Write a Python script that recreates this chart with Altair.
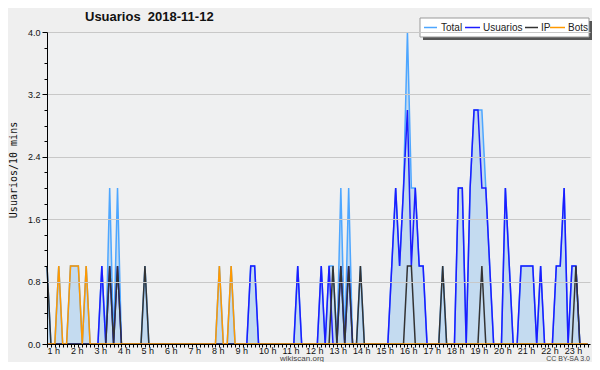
import altair as alt
import pandas as pd

# 10-minute slots, slot 0 = 1 h (local time)
total = [
    1, 0, 0, 1, 0, 0, 1, 1, 1, 0, 1, 0,
    0, 0, 1, 0, 2, 0, 2, 0, 0, 0, 0, 0,
    0, 1, 0, 0, 0, 0, 0, 0, 0, 0, 0, 0,
    0, 0, 0, 0, 0, 0, 0, 0, 1, 0, 0, 1,
    0, 0, 0, 0, 1, 1, 0, 0, 0, 0, 0, 0,
    0, 0, 0, 0, 1, 0, 0, 0, 0, 0, 1, 0,
    1, 1, 0, 2, 0, 2, 0, 0, 1, 0, 0, 0,
    0, 0, 0, 0, 1, 2, 1, 2, 4, 2, 2, 1,
    1, 0, 0, 0, 0, 1, 0, 0, 0, 2, 2, 0,
    2, 3, 3, 3, 2, 1, 0, 0, 0, 2, 1, 0,
    0, 1, 1, 1, 1, 0, 1, 0, 0, 0, 1, 1,
    2, 0, 1, 1, 0, 0, 0,
]
usuarios = [
    0, 0, 0, 0, 0, 0, 0, 0, 0, 0, 0, 0,
    0, 0, 1, 0, 1, 0, 1, 0, 0, 0, 0, 0,
    0, 0, 0, 0, 0, 0, 0, 0, 0, 0, 0, 0,
    0, 0, 0, 0, 0, 0, 0, 0, 0, 0, 0, 0,
    0, 0, 0, 0, 1, 1, 0, 0, 0, 0, 0, 0,
    0, 0, 0, 0, 1, 0, 0, 0, 0, 0, 1, 0,
    1, 0, 0, 1, 0, 1, 0, 0, 0, 0, 0, 0,
    0, 0, 0, 0, 1, 2, 1, 2, 3, 1, 2, 1,
    1, 0, 0, 0, 0, 0, 0, 0, 0, 2, 2, 0,
    2, 3, 3, 2, 2, 1, 0, 0, 0, 2, 1, 0,
    0, 1, 1, 1, 1, 0, 1, 0, 0, 0, 1, 1,
    2, 0, 1, 1, 0, 0, 0,
]
ip = [
    1, 0, 0, 0, 0, 0, 0, 0, 0, 0, 0, 0,
    0, 0, 0, 0, 1, 0, 1, 0, 0, 0, 0, 0,
    0, 1, 0, 0, 0, 0, 0, 0, 0, 0, 0, 0,
    0, 0, 0, 0, 0, 0, 0, 0, 0, 0, 0, 0,
    0, 0, 0, 0, 0, 0, 0, 0, 0, 0, 0, 0,
    0, 0, 0, 0, 0, 0, 0, 0, 0, 0, 0, 0,
    0, 1, 0, 1, 0, 1, 0, 0, 1, 0, 0, 0,
    0, 0, 0, 0, 0, 0, 0, 0, 1, 1, 0, 0,
    0, 0, 0, 0, 0, 1, 0, 0, 0, 0, 0, 0,
    0, 0, 0, 1, 0, 0, 0, 0, 0, 0, 0, 0,
    0, 0, 0, 0, 0, 0, 0, 0, 0, 0, 0, 0,
    0, 0, 0, 1, 0, 0, 0,
]
bots = [
    0, 0, 0, 1, 0, 0, 1, 1, 1, 0, 1, 0,
    0, 0, 0, 0, 0, 0, 0, 0, 0, 0, 0, 0,
    0, 0, 0, 0, 0, 0, 0, 0, 0, 0, 0, 0,
    0, 0, 0, 0, 0, 0, 0, 0, 1, 0, 0, 1,
    0, 0, 0, 0, 0, 0, 0, 0, 0, 0, 0, 0,
    0, 0, 0, 0, 0, 0, 0, 0, 0, 0, 0, 0,
    0, 0, 0, 0, 0, 0, 0, 0, 0, 0, 0, 0,
    0, 0, 0, 0, 0, 0, 0, 0, 0, 0, 0, 0,
    0, 0, 0, 0, 0, 0, 0, 0, 0, 0, 0, 0,
    0, 0, 0, 0, 0, 0, 0, 0, 0, 0, 0, 0,
    0, 0, 0, 0, 0, 0, 0, 0, 0, 0, 0, 0,
    0, 0, 0, 0, 0, 0, 0,
]

series_names = ["Total", "Usuarios", "IP", "Bots"]
series_colors = ["#4da6ff", "#1c1cff", "#333333", "#ff9900"]
hour_labels = [f"{h} h" for h in range(1, 24)]
y_ticks = [round(0.2 * k, 1) for k in range(21)]
title_text = "Usuarios\u00a0\u00a02018-11-12"
y_title = "Usuarios/10 mins"
footer = "wikiscan.org"
license_text = "CC BY-SA 3.0"

# legend layout (pixel offsets from the plot's left edge)
legend_sym_start = [377, 418, 478, 503]
legend_sym_end = [390, 433, 491, 518]
legend_text_x = [394, 436, 494, 521]

rows = []
for name, vals in zip(series_names, [total, usuarios, ip, bots]):
    for i, v in enumerate(vals):
        rows.append({"idx": i, "series": name, "value": v})
df = pd.DataFrame(rows)

leg = pd.DataFrame({
    "series": series_names,
    "x0": legend_sym_start,
    "x1": legend_sym_end,
    "tx": legend_text_x,
})

W, H = 543, 312
label_js = "[" + ",".join(f"'{s}'" for s in hour_labels) + "]"

x_enc = alt.X(
    "idx:Q",
    scale=alt.Scale(domain=[0, 138.6], nice=False, zero=False),
    axis=alt.Axis(
        values=list(range(139)),
        labelExpr=f"datum.value % 6 === 0 && datum.value/6 < 23 ? {label_js}[datum.value/6] : ''",
        labelAlign="left",
        labelBaseline="alphabetic",
        labelOverlap=False,
        labelFlush=False,
        tickSize=3,
        grid=False,
        title=None,
        domainColor="black",
        tickColor="black",
        labelPadding=6,
        zindex=1,
    ),
)
major_test = "round(datum.value*5) % 4 === 0"
y_enc = alt.Y(
    "value:Q",
    scale=alt.Scale(domain=[0, 4], nice=False),
    axis=alt.Axis(
        values=y_ticks,
        labelExpr=f"{major_test} ? format(datum.value, '.1f') : ''",
        tickSize={"condition": {"test": major_test, "value": 5}, "value": 3},
        gridOpacity={"condition": {"test": major_test, "value": 1}, "value": 0},
        gridColor="#c8c8c8",
        title=None,
        domainColor="black",
        tickColor="black",
        labelPadding=2,
        labelOverlap=False,
        zindex=1,
    ),
)
color_scale = alt.Scale(domain=series_names, range=series_colors)

base = alt.Chart(df)
area = base.transform_filter("datum.series === 'Total'").mark_area(
    color="#c4dbf0", opacity=1
).encode(x=x_enc, y=y_enc)

lines = base.mark_line(strokeWidth=1.5).encode(
    x=x_enc,
    y=y_enc,
    color=alt.Color("series:N", scale=color_scale, legend=None),
    detail="series:N",
)

one = pd.DataFrame({"t": [0]})
shadow = alt.Chart(one).mark_rect(color="#555555").encode(
    x=alt.value(376), x2=alt.value(545), y=alt.value(-11), y2=alt.value(8)
)
box = alt.Chart(one).mark_rect(color="white", stroke="#999999", strokeWidth=1).encode(
    x=alt.value(373), x2=alt.value(542), y=alt.value(-14), y2=alt.value(5)
)
leg_lines = alt.Chart(leg).mark_rule(strokeWidth=1.5).encode(
    x=alt.X("x0:Q", scale=None),
    x2="x1:Q",
    y=alt.value(-4.5),
    color=alt.Color("series:N", scale=color_scale, legend=None),
)
leg_text = alt.Chart(leg).mark_text(
    align="left", baseline="middle", font="Liberation Sans", fontSize=10,
    color="#222222"
).encode(x=alt.X("tx:Q", scale=None), y=alt.value(-4), text="series:N")

title = alt.Chart(pd.DataFrame({"t": [title_text]})).mark_text(
    align="left", baseline="middle", font="Liberation Sans", fontWeight="bold",
    fontSize=13, color="#111111"
).encode(text="t:N", x=alt.value(38), y=alt.value(-15))
ytitle = alt.Chart(pd.DataFrame({"t": [y_title]})).mark_text(
    align="center", baseline="middle", font="DejaVu Sans Mono", fontSize=10,
    angle=270, color="#111111"
).encode(text="t:N", x=alt.value(-33), y=alt.value(138))
foot = alt.Chart(pd.DataFrame({"t": [footer]})).mark_text(
    align="center", baseline="alphabetic", font="Liberation Sans", fontSize=8,
    color="#444444"
).encode(text="t:N", x=alt.value(255), y=alt.value(328.8))
lic = alt.Chart(pd.DataFrame({"t": [license_text]})).mark_text(
    align="right", baseline="alphabetic", font="Liberation Sans", fontSize=7,
    color="#444444"
).encode(text="t:N", x=alt.value(543), y=alt.value(329))

chart = alt.layer(
    area, lines, shadow, box, leg_lines, leg_text, title, ytitle, foot, lic
).properties(
    width=W,
    height=H,
    autosize=alt.AutoSizeParams(type="none"),
    padding={"left": 39, "top": 24, "right": 2, "bottom": 18},
    background="#efefef",
).configure_view(fill="#eff0f1", stroke=None).configure_axis(
    labelFont="Liberation Sans", labelFontSize=9, labelColor="#111111"
)

chart.save("out.html", embed_options={"renderer": "svg", "actions": False})
